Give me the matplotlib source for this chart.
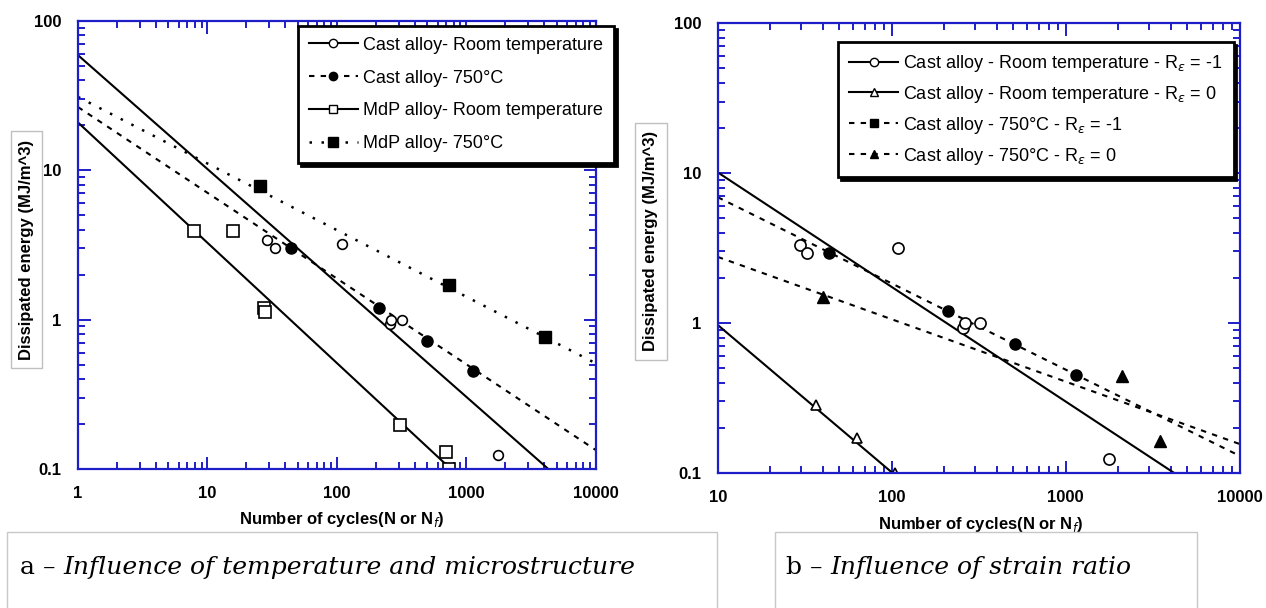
import numpy as np
import matplotlib
matplotlib.use("Agg")
import matplotlib.pyplot as plt
from matplotlib.lines import Line2D
from matplotlib.patches import Rectangle
from matplotlib.text import Annotation

plt.rcParams['font.family'] = ['Liberation Sans', 'DejaVu Sans']

# ---- panel a : temperature and microstructure ----
cast_rt_n = [29, 33, 110, 255, 262, 320, 1760]
cast_rt_w = [3.4, 3.0, 3.2, 0.93, 1.0, 1.0, 0.124]
cast_750_n = [44, 211, 500, 1130]
cast_750_w = [3.0, 1.2, 0.72, 0.45]
mdp_rt_n = [7.9, 15.7, 27.5, 27.8, 308, 695, 740]
mdp_rt_w = [3.9, 3.9, 1.2, 1.12, 0.197, 0.13, 0.1]
mdp_750_n = [25.5, 735, 4040]
mdp_750_w = [7.8, 1.7, 0.765]

# fit lines, read at their two ends
cast_rt_fit_n = [1, 4300]
cast_rt_fit_w = [59, 0.1]
cast_750_fit_n = [1, 10000]
cast_750_fit_w = [26.5, 0.134]
mdp_rt_fit_n = [1, 760]
mdp_rt_fit_w = [20.9, 0.1]
mdp_750_fit_n = [1, 10000]
mdp_750_fit_w = [31, 0.51]

# ---- panel b : strain ratio ----
rt_m1_n = [29.6, 32.4, 108, 258, 263, 321, 1766]
rt_m1_w = [3.3, 2.94, 3.17, 0.92, 1.0, 1.0, 0.124]
rt_0_n = [36.6, 63, 104]
rt_0_w = [0.284, 0.17, 0.1]
ht_m1_n = [43.5, 209, 509, 1140]
ht_m1_w = [2.94, 1.2, 0.72, 0.45]
ht_0_n = [40, 2090, 3470]
ht_0_w = [1.49, 0.446, 0.163]

rt_m1_fit_n = [10, 4200]
rt_m1_fit_w = [10.1, 0.1]
rt_0_fit_n = [10, 101]
rt_0_fit_w = [0.97, 0.1]
ht_m1_fit_n = [10, 10000]
ht_m1_fit_w = [6.9, 0.13]
ht_0_fit_n = [10, 10000]
ht_0_fit_w = [2.76, 0.156]

labels_a = ["Cast alloy- Room temperature", "Cast alloy- 750°C",
            "MdP alloy- Room temperature", "MdP alloy- 750°C"]
labels_b = ["Cast alloy - Room temperature - R$_\\varepsilon$ = -1",
            "Cast alloy - Room temperature - R$_\\varepsilon$ = 0",
            "Cast alloy - 750°C - R$_\\varepsilon$ = -1",
            "Cast alloy - 750°C - R$_\\varepsilon$ = 0"]
captions = [("a – ", "Influence of temperature and microstructure"),
            ("b – ", "Influence of strain ratio")]

BLUE = '#1e1ec8'
DASH = (0, (2.6, 3))
DOT = (0, (1, 3.8))

fig = plt.figure(figsize=(12.66, 6.08), dpi=100)
ax1 = fig.add_axes([0.0616, 0.2286, 0.409, 0.737])
ax2 = fig.add_axes([0.567, 0.222, 0.4123, 0.740])


def style_axes(ax, xmin):
    ax.set_xscale('log')
    ax.set_yscale('log')
    ax.set_xlim(xmin, 10000)
    ax.set_ylim(0.1, 100)
    for s in ax.spines.values():
        s.set_color(BLUE)
        s.set_linewidth(1.6)
    ax.tick_params(which='both', direction='in', top=True, right=True, color=BLUE, width=1.4)
    ax.tick_params(which='major', length=9, pad=12, labelsize=12)
    ax.tick_params(which='minor', length=5)
    fmt = matplotlib.ticker.FuncFormatter(lambda v, p: f"{v:g}")
    ax.xaxis.set_major_formatter(fmt)
    ax.yaxis.set_major_formatter(fmt)
    for t in ax.get_xticklabels() + ax.get_yticklabels():
        t.set_fontweight('bold')
    ax.set_xlabel("Number of cycles(N or N$_f$)", fontsize=12, fontweight='heavy')
    ax.set_ylabel("Dissipated energy (MJ/m^3)", fontsize=12, fontweight='bold',
                  bbox=dict(boxstyle='square,pad=0.5', fc='white', ec='#c0c0c0', lw=1))


style_axes(ax1, 1)
style_axes(ax2, 10)
ax1.xaxis.set_label_coords(0.51, -0.092)
ax1.yaxis.set_label_coords(-0.085, 0.49)
ax2.xaxis.set_label_coords(0.504, -0.093)
ax2.yaxis.set_label_coords(-0.114, 0.515)

# panel a
ax1.plot(cast_rt_fit_n, cast_rt_fit_w, color='k', lw=1.5)
ax1.plot(cast_750_fit_n, cast_750_fit_w, color='k', lw=1.5, ls=DASH)
ax1.plot(mdp_rt_fit_n, mdp_rt_fit_w, color='k', lw=1.5)
ax1.plot(mdp_750_fit_n, mdp_750_fit_w, color='k', lw=1.8, ls=DOT)
ax1.plot(cast_rt_n, cast_rt_w, 'o', ms=7, mfc='white', mec='k', mew=1.2)
ax1.plot(cast_750_n, cast_750_w, 'o', ms=8, mfc='k', mec='k')
ax1.plot(mdp_rt_n, mdp_rt_w, 's', ms=8, mfc='white', mec='k', mew=1.2)
ax1.plot(mdp_750_n, mdp_750_w, 's', ms=8.5, mfc='k', mec='k')

handles_a = [
    Line2D([], [], color='k', lw=1.5, marker='o', ms=6, mfc='white', mec='k'),
    Line2D([], [], color='k', lw=1.5, ls=DASH, marker='o', ms=6, mfc='k', mec='k'),
    Line2D([], [], color='k', lw=1.5, marker='s', ms=6, mfc='white', mec='k'),
    Line2D([], [], color='k', lw=1.8, ls=DOT, marker='s', ms=7, mfc='k', mec='k'),
]
leg1 = ax1.legend(handles_a, labels_a, loc='upper right', bbox_to_anchor=(1.035, 0.989),
                  borderaxespad=0, fontsize=13, handlelength=2.7, handletextpad=0.3,
                  labelspacing=0.88, borderpad=0.6, fancybox=False, framealpha=1,
                  edgecolor='k', shadow={'color': 'k', 'alpha': 1})
leg1.get_frame().set_linewidth(2)

# panel b
ax2.plot(rt_m1_fit_n, rt_m1_fit_w, color='k', lw=1.5)
ax2.plot(rt_0_fit_n, rt_0_fit_w, color='k', lw=1.5)
ax2.plot(ht_m1_fit_n, ht_m1_fit_w, color='k', lw=1.5, ls=DASH)
ax2.plot(ht_0_fit_n, ht_0_fit_w, color='k', lw=1.5, ls=DASH)
ax2.plot(rt_m1_n, rt_m1_w, 'o', ms=8, mfc='white', mec='k', mew=1.2)
ax2.plot(rt_0_n, rt_0_w, '^', ms=7, mfc='white', mec='k', mew=1.2)
ax2.plot(ht_m1_n, ht_m1_w, 'o', ms=8, mfc='k', mec='k')
ax2.plot(ht_0_n, ht_0_w, '^', ms=8, mfc='k', mec='k')

handles_b = [
    Line2D([], [], color='k', lw=1.5, marker='o', ms=6, mfc='white', mec='k'),
    Line2D([], [], color='k', lw=1.5, marker='^', ms=6, mfc='white', mec='k'),
    Line2D([], [], color='k', lw=1.5, ls=DASH, marker='s', ms=6, mfc='k', mec='k'),
    Line2D([], [], color='k', lw=1.5, ls=DASH, marker='^', ms=6, mfc='k', mec='k'),
]
leg2 = ax2.legend(handles_b, labels_b, loc='upper right', bbox_to_anchor=(0.988, 0.958),
                  borderaxespad=0, fontsize=13, handlelength=2.7, handletextpad=0.3,
                  labelspacing=0.55, borderpad=0.6, fancybox=False, framealpha=1,
                  edgecolor='k', shadow={'color': 'k', 'alpha': 1})
leg2.get_frame().set_linewidth(2)

# caption boxes under the two panels
fig.patches.append(Rectangle((0.0055, -0.1), 0.561, 0.225, transform=fig.transFigure,
                             fill=False, ec='#c8c8c8', lw=1))
fig.patches.append(Rectangle((0.612, -0.1), 0.3335, 0.225, transform=fig.transFigure,
                             fill=False, ec='#c8c8c8', lw=1))

serif = ['DejaVu Serif']
for x, (head, body) in zip([0.0158, 0.621], captions):
    t = fig.text(x, 0.0674, head, fontsize=18, family=serif, va='center')
    fig.add_artist(Annotation(body, xy=(1, 0.5), xycoords=t, va='center',
                              fontsize=18, family=serif, style='italic'))

fig.savefig("out.png", dpi=100)
